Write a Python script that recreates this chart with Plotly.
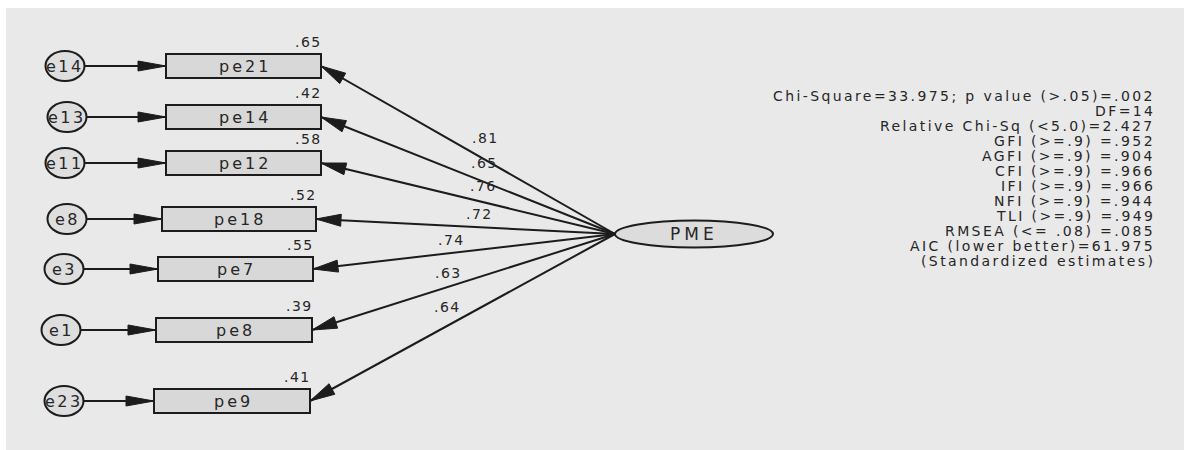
import math
import plotly.graph_objects as go

# ---------------- data ----------------
indicators = ["pe21", "pe14", "pe12", "pe18", "pe7", "pe8", "pe9"]
errors = ["e14", "e13", "e11", "e8", "e3", "e1", "e23"]
loadings = [".81", ".65", ".76", ".72", ".74", ".63", ".64"]
r_squared = [".65", ".42", ".58", ".52", ".55", ".39", ".41"]
factor = "PME"
fit_lines = [
    "Chi-Square=33.975; p value (>.05)=.002",
    "DF=14",
    "Relative Chi-Sq (<5.0)=2.427",
    "GFI (>=.9) =.952",
    "AGFI (>=.9) =.904",
    "CFI (>=.9) =.966",
    "IFI (>=.9) =.966",
    "NFI (>=.9) =.944",
    "TLI (>=.9) =.949",
    "RMSEA (<= .08) =.085",
    "AIC (lower better)=61.975",
    "(Standardized estimates)",
]

# ---------------- layout (diagram geometry, pixel units) ----------------
W, H = 1184, 450
box_y = [66, 117, 163, 219, 269, 330, 401]
box_x0 = [166, 166, 166, 162, 158, 156, 154]
box_x1 = [321, 321, 321, 316, 313, 312, 310]
box_half_h = 12
err_cx = [65, 67, 65, 67, 64, 61, 64]
err_rx, err_ry = 19.5, 15
pme_cx, pme_cy, pme_rx, pme_ry = 694, 234, 79, 13.5
load_lab_xy = [(485, 138), (484, 163), (483, 186), (479, 214),
               (451, 240), (448, 273), (447, 307)]
fit_right, fit_top, fit_step = 1157, 95.5, 15.0

INK = "#1c1c1c"
TXT = "#262626"
FONT = "DejaVu Sans"


def sp(text, ls):
    return f'<span style="letter-spacing:{ls}px">{text}</span>'


def arrowhead(xt, yt, xf, yf, L=25, Wd=5.5):
    dx, dy = xt - xf, yt - yf
    d = math.hypot(dx, dy)
    ux, uy = dx / d, dy / d
    bx, by = xt - ux * L, yt - uy * L
    px, py = -uy, ux
    p1 = (bx + px * Wd, by + py * Wd)
    p2 = (bx - px * Wd, by - py * Wd)
    return dict(type="path",
                path=f"M {xt},{yt} L {p1[0]:.2f},{p1[1]:.2f} L {p2[0]:.2f},{p2[1]:.2f} Z",
                fillcolor=INK, line=dict(color=INK, width=1), layer="above")


shapes = []
annotations = []

# background panel
shapes.append(dict(type="rect", x0=6, y0=8, x1=W, y1=H, fillcolor="#e9e9e9",
                   line=dict(width=0), layer="below"))

# loading paths
lx, ly = pme_cx - pme_rx, pme_cy
for i in range(len(indicators)):
    tx, ty = box_x1[i], box_y[i]
    shapes.append(dict(type="line", x0=lx, y0=ly, x1=tx, y1=ty,
                       line=dict(color=INK, width=2), layer="above"))
    shapes.append(arrowhead(tx, ty, lx, ly, L=25, Wd=6))

# error paths
for i in range(len(errors)):
    sx = err_cx[i] + err_rx
    tx, ty = box_x0[i], box_y[i]
    shapes.append(dict(type="line", x0=sx, y0=ty, x1=tx, y1=ty,
                       line=dict(color=INK, width=2), layer="above"))
    shapes.append(arrowhead(tx, ty, sx, ty, L=28, Wd=5))

# boxes
for i, name in enumerate(indicators):
    shapes.append(dict(type="rect", x0=box_x0[i], x1=box_x1[i],
                       y0=box_y[i] - box_half_h, y1=box_y[i] + box_half_h,
                       fillcolor="#d8d8d8", line=dict(color=INK, width=2), layer="above"))
    annotations.append(dict(x=(box_x0[i] + box_x1[i]) / 2 + 1, y=box_y[i], text=sp(name, 3),
                            showarrow=False, font=dict(family=FONT, size=16, color=TXT),
                            xanchor="center", yanchor="middle"))
    annotations.append(dict(x=box_x1[i] + 3, y=box_y[i] - box_half_h - 12, text=sp(r_squared[i], 1.5),
                            showarrow=False, font=dict(family=FONT, size=14, color=TXT),
                            xanchor="right", yanchor="middle"))
    annotations.append(dict(x=load_lab_xy[i][0], y=load_lab_xy[i][1], text=sp(loadings[i], 1.5),
                            showarrow=False, font=dict(family=FONT, size=14, color=TXT),
                            xanchor="center", yanchor="middle"))

# error circles
for i, name in enumerate(errors):
    cx, cy = err_cx[i], box_y[i]
    shapes.append(dict(type="circle", x0=cx - err_rx, x1=cx + err_rx,
                       y0=cy - err_ry, y1=cy + err_ry,
                       fillcolor="#dedede", line=dict(color=INK, width=2), layer="above"))
    annotations.append(dict(x=cx, y=cy, text=sp(name, 2.5), showarrow=False,
                            font=dict(family=FONT, size=16, color=TXT),
                            xanchor="center", yanchor="middle"))

# factor ellipse
shapes.append(dict(type="circle", x0=pme_cx - pme_rx, x1=pme_cx + pme_rx,
                   y0=pme_cy - pme_ry, y1=pme_cy + pme_ry,
                   fillcolor="#dcdcdc", line=dict(color=INK, width=2), layer="above"))
annotations.append(dict(x=pme_cx, y=pme_cy, text=sp(factor, 4), showarrow=False,
                        font=dict(family=FONT, size=17, color=TXT),
                        xanchor="center", yanchor="middle"))

# fit statistics
for k, line in enumerate(fit_lines):
    annotations.append(dict(x=fit_right, y=fit_top + k * fit_step, text=sp(line, 2.4),
                            showarrow=False, font=dict(family=FONT, size=14, color=TXT),
                            xanchor="right", yanchor="middle"))

fig = go.Figure()
fig.add_trace(go.Scatter(x=[0, W], y=[0, H], mode="markers",
                         marker=dict(opacity=0), hoverinfo="skip", showlegend=False))
fig.update_layout(
    width=W, height=H, margin=dict(l=0, r=0, t=0, b=0),
    paper_bgcolor="white", plot_bgcolor="white",
    xaxis=dict(range=[0, W], visible=False, fixedrange=True),
    yaxis=dict(range=[H, 0], visible=False, fixedrange=True),
    shapes=shapes, annotations=annotations, showlegend=False,
)
fig.write_html("out.html", config={"displayModeBar": False},
               post_script="document.body.style.margin='0px';")
